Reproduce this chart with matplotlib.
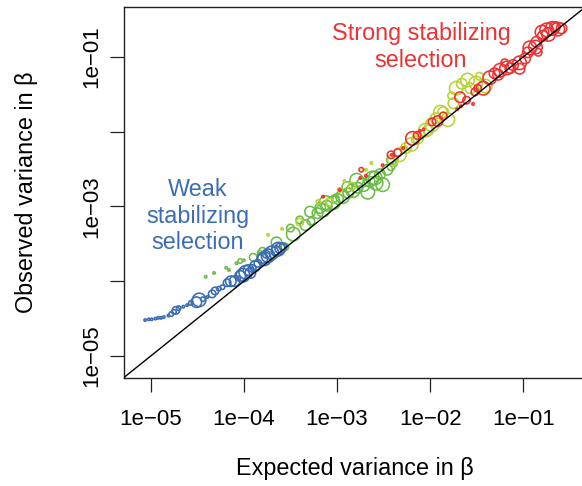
import numpy as np
import matplotlib
matplotlib.use("Agg")
import matplotlib.pyplot as plt

plt.rcParams['font.family'] = ['Liberation Sans', 'DejaVu Sans']

# ---- data (log10 of variances), weight = relative circle size ----
blue_lx = [-5.06, -5.02, -4.99, -4.95, -4.92, -4.89, -4.86, -4.81, -4.78, -4.75, -4.73, -4.70,
           -4.65, -4.61, -4.57, -4.51, -4.48, -4.44, -4.39, -4.34, -4.31, -4.27, -4.23, -4.18,
           -4.14, -4.10, -4.06, -4.01, -3.98, -3.95, -3.93, -3.88, -3.85, -3.78, -3.74, -3.70,
           -3.65, -3.61, -3.58, -3.76, -4.04, -3.80, -3.63, -3.91]
blue_ly = [-4.52, -4.51, -4.51, -4.50, -4.49, -4.49, -4.48, -4.46, -4.44, -4.41, -4.39, -4.36,
           -4.34, -4.32, -4.29, -4.28, -4.25, -4.24, -4.21, -4.17, -4.13, -4.10, -4.08, -4.02,
           -4.00, -4.00, -3.96, -3.92, -3.88, -3.85, -3.89, -3.80, -3.76, -3.70, -3.66, -3.62,
           -3.60, -3.56, -3.54, -3.64, -3.93, -3.69, -3.57, -3.83]
blue_w = [1, 1, 1, 1, 1, 1, 1, 1, 2, 2, 3, 2,
          1, 1, 2, 4, 5, 2, 1, 3, 3, 2, 2, 3,
          4, 4, 2, 5, 5, 4, 4, 4, 3, 5, 5, 5,
          4, 4, 3, 3, 4, 4, 5, 3]

green_lx = [-4.41, -4.32, -4.19, -4.16, -4.08, -4.04, -4.00, -3.90, -3.83, -3.80,
            -3.65, -3.56, -3.47, -3.34, -3.28, -3.21, -3.15, -3.11, -3.04, -2.99,
            -2.94, -2.88, -2.83, -2.78, -2.72, -2.67, -2.65, -2.59, -2.54, -2.51,
            -2.46, -2.42, -2.38, -2.79, -2.62, -2.58, -2.89, -3.12, -3.29, -3.40,
            -3.50, -3.18, -3.02, -2.41]
green_ly = [-3.94, -3.89, -3.82, -3.85, -3.76, -3.73, -3.72, -3.68, -3.62, -3.60,
            -3.48, -3.54, -3.37, -3.25, -3.20, -3.09, -3.05, -2.99, -2.95, -2.90,
            -2.87, -2.82, -2.79, -2.75, -2.71, -2.81, -2.67, -2.62, -2.57, -2.71,
            -2.51, -2.47, -2.43, -2.65, -2.62, -2.69, -2.74, -2.95, -3.07, -3.18,
            -3.29, -3.02, -2.89, -2.38]
green_w = [1, 1, 1, 1, 1, 2, 1, 3, 2, 3,
           4, 3, 5, 4, 3, 4, 5, 4, 5, 4,
           5, 4, 5, 4, 5, 5, 4, 5, 4, 5,
           4, 3, 2, 5, 5, 5, 4, 5, 4, 3,
           3, 4, 3, 4]

yg_lx = [-3.74, -3.59, -3.40, -3.08, -2.84, -2.63, -2.69, -2.92, -3.20, -2.97,
         -2.40, -2.33, -2.26, -2.20, -2.13, -2.10, -2.05, -1.98, -1.94, -1.86,
         -1.81, -1.77, -1.72, -1.66, -1.60, -1.51, -1.41, -1.47, -1.89, -1.75,
         -2.02, -2.16, -1.57, -2.27]
yg_ly = [-3.38, -3.30, -3.21, -2.94, -2.73, -2.42, -2.51, -2.66, -2.94, -2.78,
         -2.38, -2.31, -2.22, -2.17, -2.09, -2.03, -1.98, -1.91, -1.82, -1.74,
         -1.84, -1.52, -1.42, -1.36, -1.31, -1.35, -1.39, -1.26, -1.74, -1.62,
         -1.98, -2.11, -1.42, -2.22]
yg_w = [1, 1, 3, 3, 3, 1, 1, 1, 2, 2,
        4, 5, 4, 5, 4, 3, 5, 5, 4, 4,
        5, 3, 5, 4, 5, 5, 5, 3, 5, 4,
        4, 3, 4, 2]

red_lx = [-3.15, -2.97, -2.75, -2.69, -2.51, -2.41, -2.29, -2.11, -2.07, -1.71,
          -1.67, -1.54, -2.74, -2.42, -2.35, -2.19, -2.14, -1.92, -1.86, -1.68,
          -1.61, -1.49, -1.43, -1.36, -1.31, -1.25, -1.18, -1.11, -1.04, -1.04,
          -0.98, -0.93, -0.87, -0.84, -0.80, -0.75, -0.69, -0.63, -0.59, -0.79,
          -1.52, -1.27, -1.14, -0.95, -0.86, -0.73, -0.66, -1.20, -1.98]
red_ly = [-2.87, -2.78, -2.62, -2.59, -2.45, -2.31, -2.22, -1.99, -1.97, -1.70,
          -1.66, -1.63, -2.51, -2.31, -2.28, -2.09, -2.05, -1.86, -1.79, -1.54,
          -1.58, -1.42, -1.42, -1.28, -1.22, -1.18, -1.15, -1.11, -1.08, -1.16,
          -1.02, -0.88, -0.87, -0.94, -0.67, -0.64, -0.62, -0.63, -0.62, -0.72,
          -1.47, -1.24, -1.15, -0.94, -0.80, -0.70, -0.60, -1.08, -1.87]
red_w = [1, 1, 1, 1, 1, 1, 1, 1, 1, 1,
         1, 1, 2, 3, 3, 5, 3, 4, 3, 4,
         3, 3, 5, 5, 4, 5, 5, 4, 5, 4,
         4, 5, 5, 3, 5, 5, 5, 5, 4, 4,
         3, 4, 4, 4, 4, 5, 4, 3, 3]

groups = [
    (green_lx, green_ly, green_w, '#6bbd47'),
    (yg_lx, yg_ly, yg_w, '#b7d334'),
    (blue_lx, blue_ly, blue_w, '#3a6db5'),
    (red_lx, red_ly, red_w, '#ee3131'),
]

tick_exp = [-5, -4, -3, -2, -1]

# ---- figure ----
W, H = 582, 486
fig = plt.figure(figsize=(W / 100, H / 100), dpi=100)
left, right, top, bottom = 124, 585, 7, 378
ax = fig.add_axes([left / W, 1 - bottom / H, (right - left) / W, (bottom - top) / H])

diam = {1: 2.4, 2: 4.5, 3: 7.5, 4: 10.5, 5: 13.5}  # px
for lx, ly, w, c in groups:
    s = [(diam[k] * 0.72) ** 2 for k in w]
    ax.scatter(10 ** np.array(lx), 10 ** np.array(ly), s=s, facecolors='none',
               edgecolors=c, linewidths=1.15, zorder=2)

ax.set_xscale('log')
ax.set_yscale('log')
ax.set_xlim(10 ** -5.287, 10 ** -0.338)
ax.set_ylim(10 ** -5.294, 10 ** -0.334)
ax.plot([1e-7, 10], [1e-7, 10], color='black', lw=1.0, zorder=3)

ax.minorticks_off()
xt = [10.0 ** e for e in tick_exp]
ax.set_xticks(xt)
ax.set_xticklabels(['1e\u2212%02d' % (-e) for e in tick_exp])
ax.set_yticks(xt)
ax.set_yticklabels(['1e\u2212%02d' % (-e) if e % 2 else '' for e in tick_exp],
                   rotation=90, va='center')
ax.tick_params(axis='both', length=10, width=0.9, labelsize=16, color='#222222')
ax.tick_params(axis='x', pad=12)
ax.tick_params(axis='y', pad=6)
for sp in ax.spines.values():
    sp.set_linewidth(1.0)
    sp.set_color('#222222')

ax.text(10 ** (-5 + (198 - 150.7) / 93.15), 10 ** (-5 + (356 - 216) / 74.8),
        'Weak\nstabilizing\nselection', color='#3a6db5', fontsize=16.8,
        ha='center', va='center', linespacing=1.2)
ax.text(10 ** (-5 + (421 - 150.7) / 93.15), 10 ** (-5 + (356 - 47) / 74.8),
        'Strong stabilizing\nselection', color='#ee3131', fontsize=16.8,
        ha='center', va='center', linespacing=1.2)

fig.text(354.5 / W, 1 - 468 / H, 'Expected variance in \u03b2', ha='center', va='center',
         fontsize=16.8)
fig.text(27 / W, 1 - 192 / H, 'Observed variance in \u03b2', ha='center', va='center',
         rotation=90, fontsize=16.8)

fig.savefig('out.png', dpi=100)
